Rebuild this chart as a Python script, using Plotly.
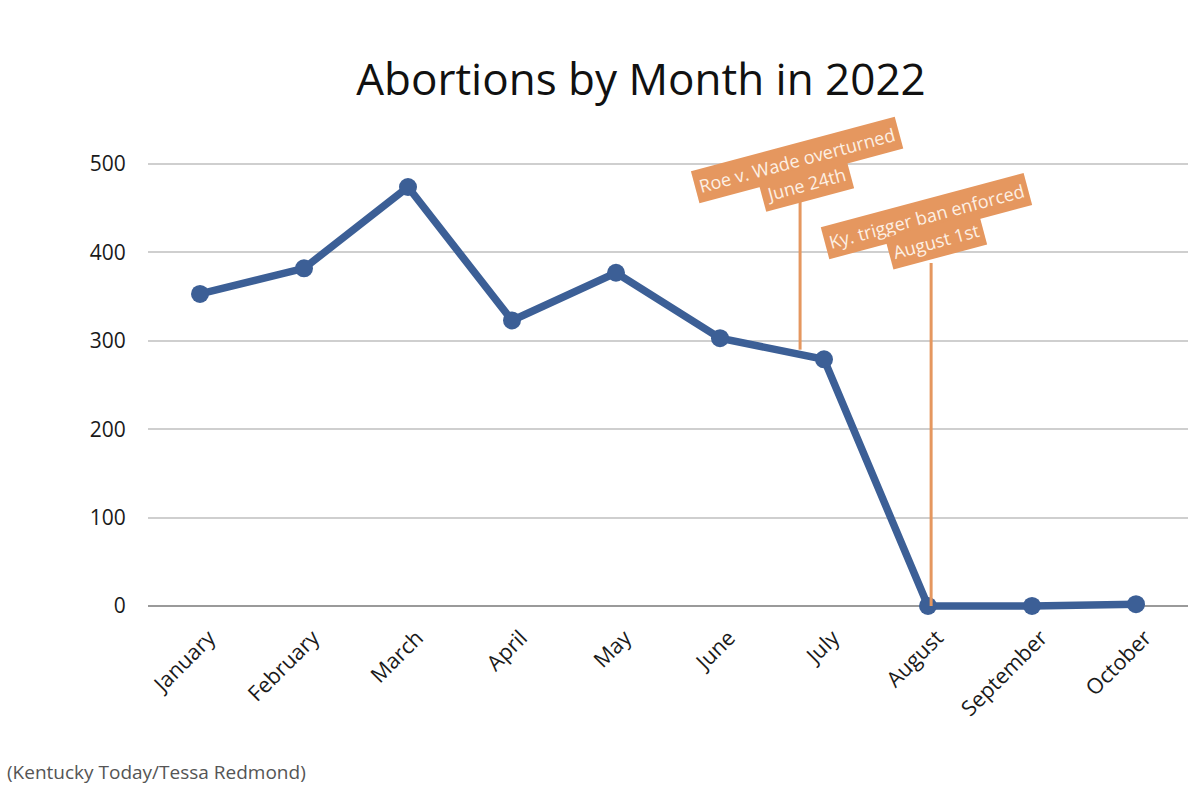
import plotly.graph_objects as go

months = ["January", "February", "March", "April", "May", "June",
          "July", "August", "September", "October"]
abortions = [353, 382, 474, 323, 377, 303, 279, 0, 0, 2]

# event markers (x in category index units, y in data units)
event_x = [5.77, 7.03]
event_y0 = [290, 0]
event_y1 = [458, 388]
event_lines = [["Roe v. Wade overturned", "June 24th"],
               ["Ky. trigger ban enforced", "August 1st"]]
label_pos = [[(5.74, 505), (5.83, 477)],
             [(6.99, 441), (7.08, 413)]]

BLUE = "#3C5F96"
ORANGE = "#E5975F"
FONT = "Open Sans"

fig = go.Figure()
fig.add_trace(go.Scatter(
    x=list(range(len(months))), y=abortions, mode="lines+markers",
    line=dict(color=BLUE, width=7.5),
    marker=dict(color=BLUE, size=18),
    showlegend=False, hoverinfo="skip"))

for i in range(len(event_x)):
    fig.add_shape(type="line", xref="x", yref="y",
                  x0=event_x[i], x1=event_x[i], y0=event_y0[i], y1=event_y1[i],
                  line=dict(color=ORANGE, width=3), layer="above")

for i in range(len(event_x)):
    for j, txt in enumerate(event_lines[i]):
        px, py = label_pos[i][j]
        fig.add_annotation(x=px, y=py, xref="x", yref="y", text=txt,
                           showarrow=False, textangle=-15,
                           xanchor="center", yanchor="middle",
                           font=dict(family=FONT, size=18, color="#FDF0E4"),
                           bgcolor=ORANGE, borderpad=4)

fig.add_annotation(x=(5 - 148) / 1040, y=(640 - 772) / 510, xref="paper", yref="paper",
                   text="(Kentucky Today/Tessa Redmond)",
                   showarrow=False, xanchor="left", yanchor="middle",
                   font=dict(family=FONT, size=19, color="#555555"))

fig.update_layout(
    width=1200, height=806,
    paper_bgcolor="white", plot_bgcolor="white",
    margin=dict(l=148, r=12, t=130, b=166),
    title=dict(text="Abortions by Month in 2022", x=641 / 1200, xanchor="center",
               y=1 - 80 / 806, yanchor="middle",
               font=dict(family=FONT, size=44, color="#111111")),
    font=dict(family=FONT, color="#222222"),
)

fig.update_xaxes(
    tickmode="array", tickvals=list(range(len(months))), ticktext=months,
    range=[-0.5, 9.5], tickangle=-45, showgrid=False, zeroline=False,
    showline=False, ticks="", tickfont=dict(family=FONT, size=21.5, color="#1A1A1A"),
    ticklabelstandoff=-20, ticklabelshift=9)
fig.update_yaxes(
    range=[-38.5, 538.5], tickvals=[0, 100, 200, 300, 400, 500],
    showgrid=True, gridcolor="#CFCFCF", gridwidth=1.5,
    zeroline=True, zerolinecolor="#9A9A9A", zerolinewidth=1.5,
    showline=False, ticks="outside", ticklen=17, tickcolor="rgba(0,0,0,0)",
    tickfont=dict(family=FONT, size=21, color="#1A1A1A"))

fig.write_html("out.html")
